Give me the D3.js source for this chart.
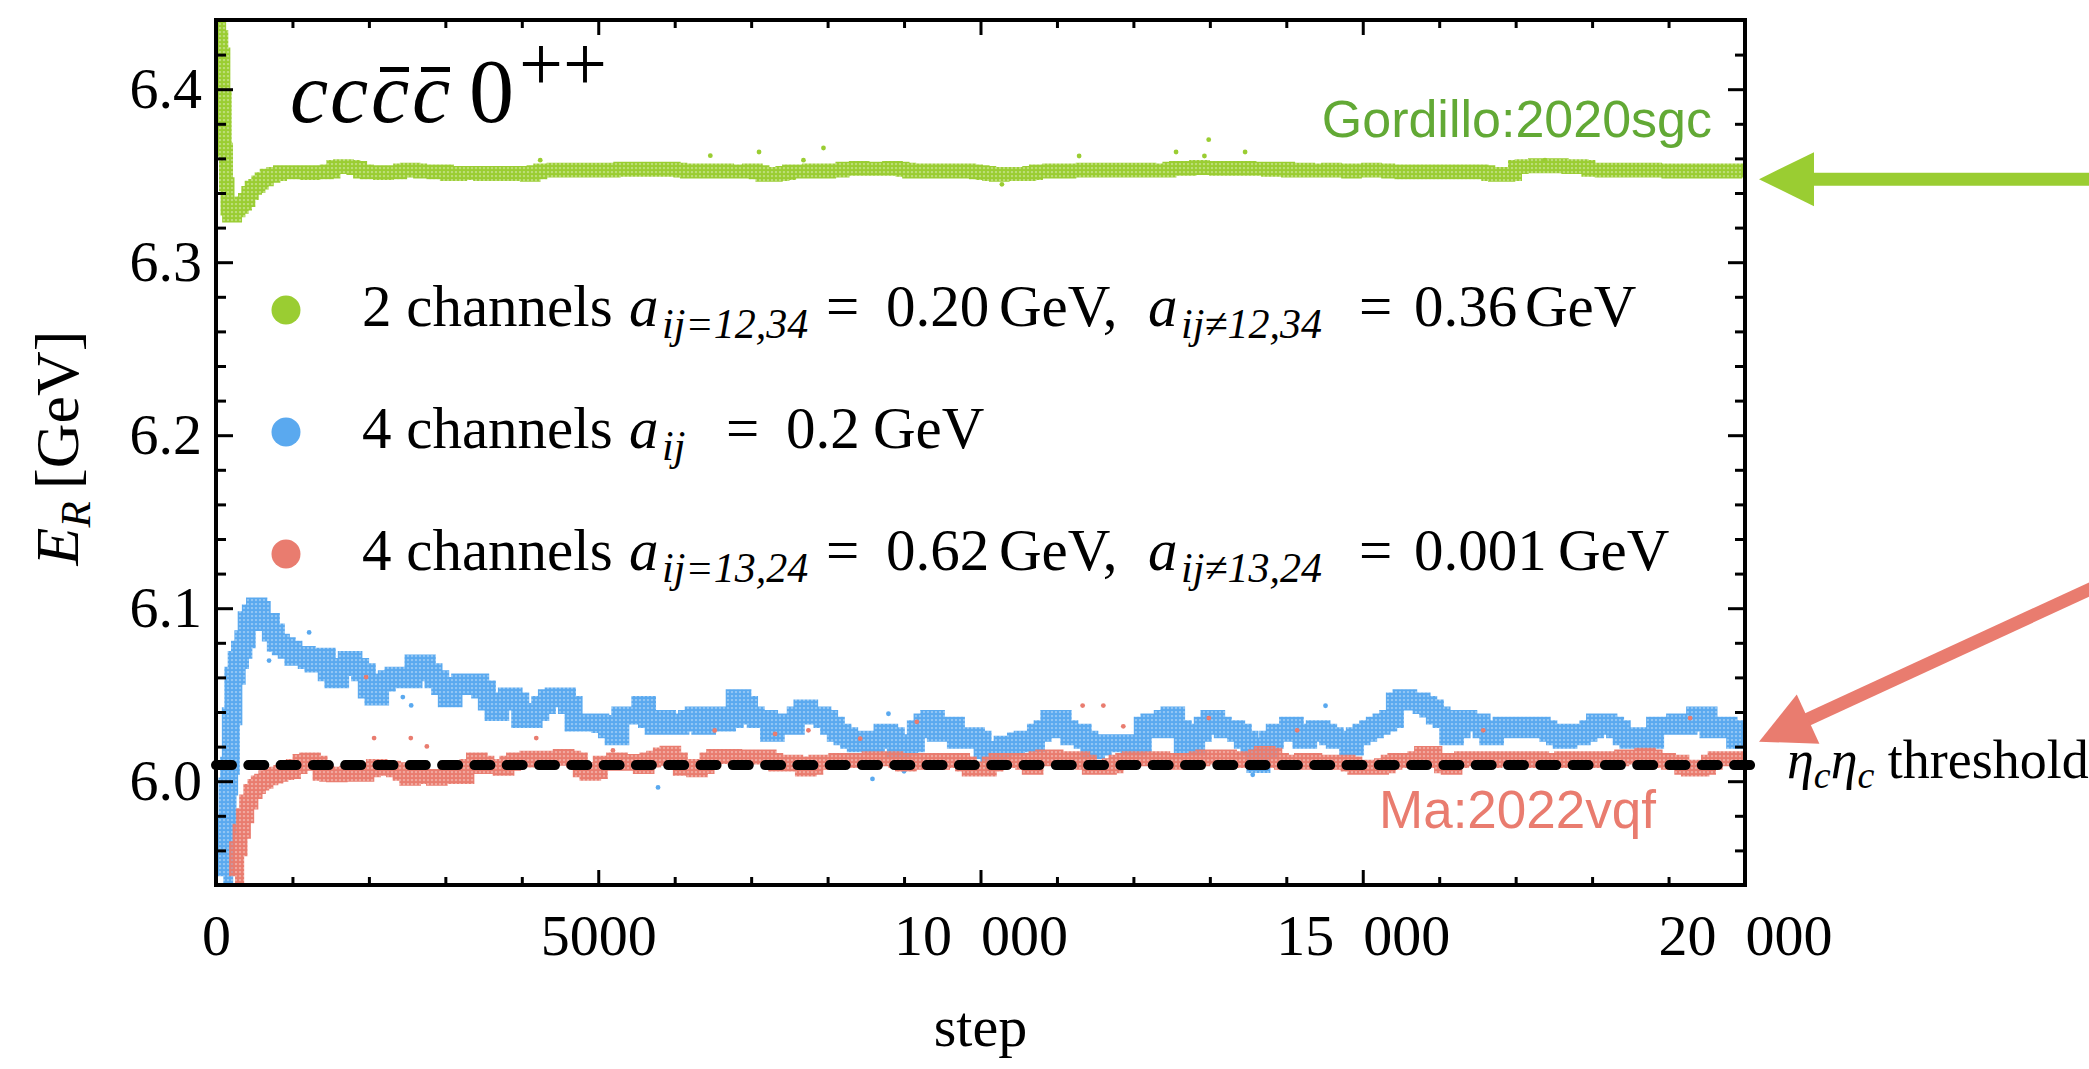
<!DOCTYPE html>
<html><head><meta charset="utf-8">
<script src="https://cdn.jsdelivr.net/npm/d3@7"></script>
<style>html,body{margin:0;padding:0;background:#fff;}svg{display:block;}</style>
</head><body>
<svg id="chart" width="2089" height="1069"></svg>
<script>
// ---------------- data ----------------
const greenEarlySteps = [0, 30, 52, 87, 105, 122, 140, 161, 183, 227, 271, 314, 358, 401, 445, 489, 532, 576, 620, 707, 794, 881];
const greenEarlyValues = [6.445, 6.437, 6.430, 6.420, 6.395, 6.365, 6.345, 6.331, 6.327, 6.327, 6.330, 6.332, 6.334, 6.336, 6.340, 6.343, 6.344, 6.346, 6.348, 6.350, 6.351, 6.352];
const blueEarlySteps = [96, 118, 140, 161, 183, 205, 249, 292, 336, 380, 423, 489, 532, 576, 620, 685, 750, 816, 881];
const blueEarlyValues = [5.945, 5.952, 5.974, 5.997, 6.009, 6.0375, 6.061, 6.070, 6.076, 6.082, 6.093, 6.097, 6.101, 6.099, 6.092, 6.092, 6.086, 6.080, 6.078];
const redEarlySteps = [249, 292, 336, 380, 423, 489, 532, 576, 620, 685, 750, 816, 881];
const redEarlyValues = [5.945, 5.961, 5.971, 5.980, 5.988, 5.994, 5.997, 5.999, 6.000, 6.002, 6.003, 6.004, 6.005];

const steps = [
 969,1056,1143,1231,1318,1405,1492,1580,1667,1754,1841,1929,2016,2103,2190,2278,2365,2452,2540,2627,
 2714,2801,2889,2976,3063,3150,3238,3325,3412,3499,3587,3674,3761,3849,3936,4023,4110,4198,4285,4372,
 4460,4547,4634,4721,4809,4896,4983,5070,5158,5245,5332,5419,5507,5594,5681,5769,5856,5943,6030,6118,
 6205,6292,6379,6467,6554,6641,6728,
 6842,6929,7016,7104,7191,7278,7365,7453,7540,7627,7715,7802,7889,7976,8064,8151,8238,8326,8413,8500,
 8587,8675,8762,8849,8936,9024,9111,9198,9286,9373,9460,9547,9635,9722,9809,9897,9984,10071,10158,10246,
 10333,10420,10508,10595,10682,10769,10857,10944,11031,11118,11206,11293,11380,11468,11555,11642,11729,11817,11904,11991,
 12079,12166,12253,12340,12428,12515,12602,12690,12777,12864,12951,13039,13126,13213,13300,13388,13475,13562,
 13631,13718,13806,13893,13980,14067,14155,14242,14329,14416,14504,14591,14678,14766,14853,14940,15027,15115,15202,15289,
 15377,15464,15551,15638,15726,15813,15900,15987,16075,16162,16249,16337,16424,16511,16598,16686,16773,16860,16948,17035,
 17122,17209,17297,17384,17471,17559,17646,17733,17820,17908,17995,18082,18169,18257,18344,18431,18519,18606,18693,18780,
 18868,18955,19042,19130,19217,19304,19391,19479,19566,19653,19740,19828,19915,20000
];
const blueValues = [
 6.076,6.072,6.073,6.070,6.068,6.072,6.063,6.059,6.066,6.070,6.066,6.063,6.053,6.049,6.057,6.059,6.061,6.061,6.059,6.068,
 6.068,6.063,6.059,6.055,6.048,6.055,6.057,6.055,6.057,6.053,6.046,6.040,6.046,6.049,6.046,6.036,6.036,6.040,6.044,6.048,
 6.049,6.049,6.044,6.034,6.034,6.034,6.034,6.033,6.030,6.026,6.038,6.038,6.038,6.044,6.036,6.032,6.036,6.032,6.032,6.034,
 6.036,6.038,6.032,6.034,6.038,6.034,6.036,
 6.048,6.044,6.038,6.036,6.036,6.028,6.032,6.034,6.032,6.038,6.042,6.038,6.038,6.036,6.032,6.028,6.026,6.024,6.022,6.024,
 6.022,6.024,6.028,6.026,6.018,6.020,6.022,6.030,6.034,6.036,6.028,6.030,6.032,6.024,6.026,6.026,6.024,6.018,6.016,6.018,
 6.021,6.020,6.023,6.024,6.022,6.028,6.030,6.036,6.036,6.030,6.026,6.028,6.024,6.018,6.020,6.022,6.022,6.022,6.022,6.020,
 6.022,6.032,6.034,6.030,6.036,6.038,6.030,6.020,6.020,6.028,6.032,6.036,6.032,6.030,6.030,6.028,6.024,6.020,
 6.010,6.018,6.024,6.028,6.028,6.032,6.028,6.024,6.028,6.030,6.028,6.026,6.024,6.024,6.020,6.026,6.028,6.030,6.032,6.034,
 6.036,6.046,6.048,6.046,6.046,6.044,6.042,6.038,6.036,6.026,6.030,6.036,6.034,6.034,6.030,6.026,6.030,6.032,6.032,6.030,
 6.032,6.030,6.032,6.030,6.028,6.026,6.024,6.028,6.026,6.028,6.030,6.034,6.034,6.032,6.030,6.026,6.024,6.026,6.024,6.024,
 6.032,6.032,6.032,6.034,6.032,6.034,6.038,6.038,6.030,6.032,6.032,6.030,6.024,6.026
];
const redValues = [
 6.0056,6.0085,6.0114,6.0123,6.0104,6.0046,6.0040,6.0037,6.0040,6.0046,6.0040,6.0040,6.0066,6.0085,6.0075,6.0075,6.0066,6.0046,6.0017,6.0027,
 6.0027,6.0027,6.0017,6.0027,6.0027,6.0027,6.0027,6.0085,6.0123,6.0104,6.0085,6.0085,6.0075,6.0104,6.0123,6.0123,6.0133,6.0133,6.0123,6.0133,
 6.0133,6.0143,6.0133,6.0123,6.0066,6.0046,6.0056,6.0104,6.0104,6.0123,6.0104,6.0114,6.0104,6.0085,6.0123,6.0133,6.0152,6.0162,6.0123,6.0075,
 6.0085,6.0066,6.0085,6.0123,6.0143,6.0143,6.0143,
 6.014,6.014,6.014,6.014,6.014,6.012,6.010,6.010,6.011,6.010,6.007,6.008,6.011,6.011,6.011,6.012,6.012,6.012,6.012,6.012,
 6.013,6.013,6.013,6.013,6.012,6.010,6.011,6.012,6.012,6.011,6.011,6.012,6.012,6.012,6.010,6.007,6.007,6.007,6.010,6.012,
 6.012,6.012,6.012,6.011,6.008,6.013,6.014,6.014,6.013,6.013,6.012,6.013,6.011,6.008,6.008,6.008,6.009,6.011,6.012,6.013,
 6.013,6.013,6.013,6.013,6.012,6.012,6.011,6.012,6.012,6.013,6.014,6.014,6.014,6.014,6.013,6.013,6.012,6.012,
 6.014,6.016,6.015,6.012,6.011,6.011,6.011,6.012,6.012,6.011,6.011,6.011,6.011,6.011,6.010,6.008,6.008,6.008,6.008,6.009,
 6.011,6.012,6.012,6.012,6.013,6.016,6.016,6.012,6.009,6.008,6.012,6.013,6.013,6.013,6.012,6.012,6.013,6.013,6.013,6.012,
 6.012,6.013,6.013,6.012,6.012,6.012,6.013,6.013,6.013,6.012,6.012,6.013,6.013,6.013,6.013,6.014,6.014,6.014,6.015,6.014,
 6.012,6.012,6.011,6.011,6.008,6.007,6.007,6.008,6.011,6.013,6.013,6.013,6.013,6.013
];
const greenValues = [
 6.352,6.352,6.352,6.3515,6.352,6.352,6.3525,6.355,6.3555,6.355,6.3545,6.3525,6.352,6.352,6.3515,6.352,6.352,6.353,6.3535,6.353,
 6.3525,6.3525,6.352,6.3525,6.351,6.351,6.3515,6.3515,6.3515,6.351,6.3515,6.3515,6.351,6.351,6.3515,6.351,6.3505,6.352,6.353,6.353,
 6.3535,6.353,6.353,6.3535,6.353,6.353,6.3535,6.353,6.353,6.3535,6.354,6.354,6.3535,6.354,6.354,6.3535,6.354,6.354,6.3535,6.353,
 6.3525,6.3525,6.353,6.3525,6.3525,6.353,6.3525,
 6.3525,6.3525,6.353,6.352,6.3505,6.3505,6.351,6.3515,6.3525,6.3525,6.3525,6.353,6.3525,6.3525,6.353,6.353,6.354,6.354,6.3545,6.354,
 6.354,6.354,6.354,6.3545,6.354,6.3535,6.3525,6.353,6.3525,6.3525,6.353,6.3525,6.3525,6.353,6.353,6.3525,6.352,6.3515,6.351,6.3505,
 6.351,6.351,6.351,6.351,6.3515,6.3525,6.3525,6.353,6.3525,6.3525,6.353,6.353,6.3535,6.353,6.353,6.3535,6.353,6.353,6.3535,6.353,
 6.353,6.3535,6.353,6.353,6.353,6.354,6.3545,6.354,6.3545,6.355,6.3545,6.3545,6.354,6.3545,6.354,6.354,6.3545,6.354,
 6.354,6.354,6.3535,6.354,6.354,6.353,6.353,6.3535,6.353,6.353,6.353,6.3535,6.353,6.353,6.3525,6.353,6.353,6.3535,6.353,6.353,
 6.3525,6.3525,6.352,6.3525,6.3525,6.352,6.3525,6.3525,6.352,6.3525,6.3525,6.352,6.352,6.3525,6.352,6.351,6.3505,6.3505,6.351,6.355,
 6.3555,6.3555,6.356,6.3555,6.3555,6.356,6.3555,6.355,6.3555,6.355,6.3535,6.3535,6.353,6.3535,6.3535,6.353,6.3535,6.3535,6.353,6.3535,
 6.353,6.353,6.3525,6.353,6.353,6.3525,6.353,6.353,6.3525,6.353,6.353,6.3525,6.353,6.353
];

// scattered single points
const greenOutSteps = [4241, 6466, 7103, 7684, 7946, 10280, 11290, 12558, 12929, 12985, 13461, 17384];
const greenOutValues = [6.359, 6.3616, 6.3637, 6.359, 6.366, 6.345, 6.3614, 6.3637, 6.3614, 6.3708, 6.3637, 6.359];
const blueOutSteps = [694, 1218, 2444, 2553, 5782, 8587, 8796, 9000, 13561, 14513];
const blueOutValues = [6.0697, 6.086, 6.0486, 6.0438, 5.9964, 6.0013, 6.039, 6.0057, 6.0037, 6.0436];
const redOutSteps = [1963, 2068, 2548, 2758, 4189, 5192, 6523, 7313, 7749, 8426, 9167, 11336, 11607, 11868, 12986, 14142, 16576, 19282];
const redOutValues = [6.0602, 6.0249, 6.0249, 6.0201, 6.0249, 6.0178, 6.0293, 6.0273, 6.0294, 6.0246, 6.0343, 6.0437, 6.0437, 6.0317, 6.0365, 6.0294, 6.0294, 6.0365];

const thresholdValue = 6.0093;
const xMajorTicks = [0, 5000, 10000, 15000, 20000];
const xTickLabels = ['0', '5000', '10\u2002000', '15\u2002000', '20\u2002000'];
const yMajorTicks = [6.0, 6.1, 6.2, 6.3, 6.4];
const yTickLabels = ['6.0', '6.1', '6.2', '6.3', '6.4'];

// ---------------- drawing ----------------
const C = {green:'#9acd32', greenText:'#62a935', blue:'#5aa9ef', red:'#e97c6f'};
const SERIF = "'Liberation Serif','Times New Roman',serif";
const SANS = "'Liberation Sans',Arial,sans-serif";

const svg = d3.select('#chart');
const x = d3.scaleLinear().domain([0, 20000]).range([216, 1745]);
const y = d3.scaleLinear().domain([5.94, 6.44]).range([885, 20]);
const [X0, X1] = x.range(), [Y0, Y1] = y.range();

const defs = svg.append('defs');
defs.append('clipPath').attr('id', 'clip').append('rect')
  .attr('x', X0).attr('y', Y1).attr('width', X1 - X0).attr('height', Y0 - Y1);
function dotPattern(id, color) {
  const p = defs.append('pattern').attr('id', id).attr('patternUnits', 'userSpaceOnUse')
    .attr('width', 4).attr('height', 4);
  p.append('rect').attr('width', 4).attr('height', 4).attr('fill', color).attr('fill-opacity', 0.45);
  p.append('circle').attr('cx', 2).attr('cy', 2).attr('r', 2.05).attr('fill', color);
}
dotPattern('pg', C.green); dotPattern('pb', C.blue); dotPattern('pr', C.red);

const series = [
  {steps: greenEarlySteps.concat(steps), values: greenEarlyValues.concat(greenValues), pat: 'pg', color: C.green, w: 14, os: greenOutSteps, ov: greenOutValues},
  {steps: blueEarlySteps.concat(steps), values: blueEarlyValues.concat(blueValues), pat: 'pb', color: C.blue, w: 18, os: blueOutSteps, ov: blueOutValues},
  {steps: redEarlySteps.concat(steps), values: redEarlyValues.concat(redValues), pat: 'pr', color: C.red, w: 15, os: redOutSteps, ov: redOutValues}
];
const line = d3.line().x(d => x(d[0])).y(d => y(d[1])).curve(d3.curveStep);
const plot = svg.append('g').attr('clip-path', 'url(#clip)');
series.forEach(s => {
  const pts = s.steps.map((st, i) => [st, s.values[i]]);
  plot.append('path').attr('d', line(pts)).attr('fill', 'none')
    .attr('stroke', `url(#${s.pat})`).attr('stroke-width', s.w).attr('stroke-linejoin', 'miter');
  plot.selectAll(null).data(s.os.map((st, i) => [st, s.ov[i]])).enter().append('circle')
    .attr('cx', d => x(d[0])).attr('cy', d => y(d[1])).attr('r', 2.4).attr('fill', s.color);
});

// threshold dashed line
svg.append('line').attr('x1', x(0)).attr('x2', x(20000) + 11)
  .attr('y1', y(thresholdValue)).attr('y2', y(thresholdValue))
  .attr('stroke', '#000').attr('stroke-width', 10).attr('stroke-linecap', 'round')
  .attr('stroke-dasharray', '16,16.3');

// axes (ticks inward on all four sides)
function styleAxis(g) {
  g.select('.domain').remove();
  g.selectAll('line').attr('stroke', '#000').attr('stroke-width', 3);
  g.selectAll('text').attr('font-family', SERIF).attr('font-size', 58).attr('fill', '#000');
}
const xMinor = d3.range(0, 20001, 1000).filter(v => !xMajorTicks.includes(v));
const yMinor = d3.range(5.94, 6.441, 0.02).map(v => +v.toFixed(2)).filter(v => !yMajorTicks.some(t => Math.abs(t - v) < 1e-6));

svg.append('g').attr('transform', `translate(0,${Y0})`)
  .call(d3.axisBottom(x).tickValues(xMajorTicks).tickSize(-15).tickPadding(29)
    .tickFormat(d => xTickLabels[xMajorTicks.indexOf(d)])).call(styleAxis);
svg.append('g').attr('transform', `translate(0,${Y0})`)
  .call(d3.axisBottom(x).tickValues(xMinor).tickSize(-8).tickFormat('')).call(styleAxis);
svg.append('g').attr('transform', `translate(0,${Y1})`)
  .call(d3.axisTop(x).tickValues(xMajorTicks).tickSize(-15).tickFormat('')).call(styleAxis);
svg.append('g').attr('transform', `translate(0,${Y1})`)
  .call(d3.axisTop(x).tickValues(xMinor).tickSize(-8).tickFormat('')).call(styleAxis);
svg.append('g').attr('transform', `translate(${X0},0)`)
  .call(d3.axisLeft(y).tickValues(yMajorTicks).tickSize(-17).tickPadding(14)
    .tickFormat(d => yTickLabels[yMajorTicks.indexOf(d)])).call(styleAxis);
svg.append('g').attr('transform', `translate(${X0},0)`)
  .call(d3.axisLeft(y).tickValues(yMinor).tickSize(-10).tickFormat('')).call(styleAxis);
svg.append('g').attr('transform', `translate(${X1},0)`)
  .call(d3.axisRight(y).tickValues(yMajorTicks).tickSize(-17).tickFormat('')).call(styleAxis);
svg.append('g').attr('transform', `translate(${X1},0)`)
  .call(d3.axisRight(y).tickValues(yMinor).tickSize(-10).tickFormat('')).call(styleAxis);

svg.append('rect').attr('x', X0).attr('y', Y1).attr('width', X1 - X0).attr('height', Y0 - Y1)
  .attr('fill', 'none').attr('stroke', '#000').attr('stroke-width', 4);

// axis titles
svg.append('text').attr('x', (X0 + X1) / 2).attr('y', 1046).attr('text-anchor', 'middle')
  .attr('font-family', SERIF).attr('font-size', 58).text('step');
const yt = svg.append('text').attr('transform', 'translate(78,448) rotate(-90)').attr('text-anchor', 'middle')
  .attr('font-family', SERIF).attr('font-size', 62);
yt.append('tspan').attr('font-style', 'italic').text('E');
yt.append('tspan').attr('font-style', 'italic').attr('font-size', 43).attr('dy', 12).text('R');
yt.append('tspan').attr('dy', -12).text('\u2009[GeV]');

// title  c c c̄ c̄ 0++
const title = svg.append('g').attr('font-family', SERIF).attr('fill', '#000');
[292, 332, 373, 414].forEach(px => title.append('text').attr('x', px - 2).attr('y', 122)
  .attr('font-size', 86).attr('font-style', 'italic').text('c'));
[[380, 409], [421, 450]].forEach(b => title.append('line').attr('x1', b[0]).attr('x2', b[1])
  .attr('y1', 69.5).attr('y2', 69.5).attr('stroke', '#000').attr('stroke-width', 5));
title.append('text').attr('x', 469).attr('y', 122).attr('font-size', 90).text('0');
title.append('text').attr('x', 519).attr('y', 90).attr('font-size', 78).text('++');

// legend
const legendRows = [
  {color: C.green, cy: 310, parts: [['2 channels', 362], ['a', 629, 'i'], ['ij=12,34', 662, 's'], ['=', 826], ['0.20', 886], ['GeV,', 999], ['a', 1148, 'i'], ['ij\u226012,34', 1181, 's'], ['=', 1359], ['0.36', 1414], ['GeV', 1525]]},
  {color: C.blue, cy: 432, parts: [['4 channels', 362], ['a', 629, 'i'], ['ij', 662, 's'], ['=', 726], ['0.2', 786], ['GeV', 873]]},
  {color: C.red, cy: 554, parts: [['4 channels', 362], ['a', 629, 'i'], ['ij=13,24', 662, 's'], ['=', 826], ['0.62', 886], ['GeV,', 999], ['a', 1148, 'i'], ['ij\u226013,24', 1181, 's'], ['=', 1359], ['0.001', 1414], ['GeV', 1558]]}
];
legendRows.forEach(r => {
  svg.append('circle').attr('cx', 286).attr('cy', r.cy).attr('r', 14.5).attr('fill', r.color);
  const g = svg.append('g').attr('font-family', SERIF).attr('fill', '#000');
  r.parts.forEach(p => {
    const t = g.append('text').attr('x', p[1]).attr('y', r.cy + 16 + (p[2] === 's' ? 12 : 0))
      .attr('font-size', p[2] === 's' ? 42 : 59).text(p[0]);
    if (p[2]) t.attr('font-style', 'italic');
  });
});

// reference labels
svg.append('text').attr('x', 1712).attr('y', 137).attr('text-anchor', 'end')
  .attr('font-family', SANS).attr('font-size', 52).attr('fill', C.greenText).text('Gordillo:2020sgc');
svg.append('text').attr('x', 1379).attr('y', 828)
  .attr('font-family', SANS).attr('font-size', 53).attr('fill', C.red).text('Ma:2022vqf');

// threshold label
const th = svg.append('text').attr('x', 1787).attr('y', 778).attr('font-family', SERIF).attr('font-size', 54);
th.append('tspan').attr('font-style', 'italic').text('\u03b7');
th.append('tspan').attr('font-style', 'italic').attr('font-size', 38).attr('dy', 10).text('c');
th.append('tspan').attr('font-style', 'italic').attr('dy', -10).text('\u03b7');
th.append('tspan').attr('font-style', 'italic').attr('font-size', 38).attr('dy', 10).text('c');
th.append('tspan').attr('dy', -10).text(' threshold');

// arrows
const tipX = X1 + 14;
const gy = y(6.348);
svg.append('line').attr('x1', tipX + 45).attr('x2', 2100).attr('y1', gy).attr('y2', gy)
  .attr('stroke', C.green).attr('stroke-width', 13);
svg.append('polygon').attr('points', `${tipX},${gy} ${tipX + 55},${gy - 27} ${tipX + 55},${gy + 27}`).attr('fill', C.green);
const ry = y(6.0228), ux = 0.909, uy = -0.419, hl = 54, hw = 27;
const bx = tipX + hl * ux, by = ry + hl * uy;
svg.append('line').attr('x1', bx - 5 * ux).attr('y1', by - 5 * uy)
  .attr('x2', tipX + 400 * ux).attr('y2', ry + 400 * uy)
  .attr('stroke', C.red).attr('stroke-width', 13);
svg.append('polygon').attr('points', `${tipX},${ry} ${bx - uy * hw},${by + ux * hw} ${bx + uy * hw},${by - ux * hw}`).attr('fill', C.red);
</script>
</body></html>
